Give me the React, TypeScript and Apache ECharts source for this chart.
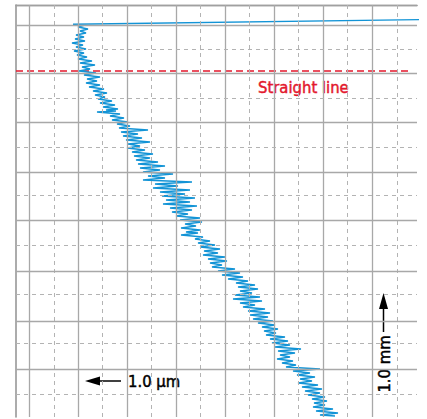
import React, { useEffect, useRef } from "react";
import * as echarts from "echarts";

// Profile trace: lateral deviation (x) vs depth (y), arbitrary units from plot corner
const profileX = [
  411, 57, 69, 62, 72, 64, 70, 60, 68, 59, 69, 56, 67, 60, 70, 58, 68, 61, 71, 62, 76, 64, 79, 66, 74, 63, 80, 68,
  84, 71, 81, 70, 84, 73, 88, 77, 91, 79, 89, 82, 96, 84, 99, 87, 102, 90, 100, 81, 104, 94, 108, 96, 112, 101,
  114, 103, 132, 105, 122, 107, 126, 110, 134, 112, 124, 111, 129, 116, 137, 118, 134, 120, 142, 122, 149, 124,
  144, 127, 157, 132, 149, 127, 176, 139, 162, 137, 174, 144, 169, 146, 179, 150, 174, 147, 181, 154, 176, 156,
  172, 160, 184, 164, 186, 169, 180, 165, 184, 170, 182, 165, 187, 179, 194, 182, 199, 184, 204, 188, 202, 187,
  209, 192, 211, 194, 206, 196, 219, 202, 224, 206, 227, 212, 232, 220, 239, 222, 242, 224, 236, 219, 244, 217,
  246, 224, 239, 227, 249, 232, 254, 234, 252, 237, 257, 242, 259, 246, 262, 248, 260, 250, 269, 254, 272, 256,
  274, 259, 285, 262, 279, 264, 274, 261, 277, 266, 280, 270, 304, 277, 294, 281, 299, 284, 296, 282, 302, 286,
  306, 289, 304, 292, 309, 296, 311, 298, 309, 297, 317, 300, 322, 304, 319,
];
const profileDepth = [
  14.5, 19.3, 20, 22, 24, 26, 28, 30, 32, 34, 36, 38, 40, 42, 44, 46, 48, 50, 52, 54, 56, 58, 60, 62, 64, 66, 68,
  70, 72, 74, 76, 78, 80, 82, 84, 86, 88, 90, 92, 94, 96, 98, 100, 102, 104, 105, 106, 107, 109, 111, 113, 115,
  117, 119, 121, 123, 125, 127, 129, 131, 133, 135, 137, 139, 141, 143, 145, 147, 149, 151, 153, 155, 157, 159,
  161, 163, 165, 167, 169, 171, 173, 175, 177, 179, 181, 183, 185, 187, 189, 191, 193, 195, 197, 199, 201, 203,
  205, 207, 209, 211, 213, 215, 217, 219, 221, 223, 225, 227, 228, 230, 232, 234, 236, 238, 240, 242, 244, 246,
  248, 250, 252, 254, 256, 258, 260, 262, 264, 266, 268, 270, 272, 274, 276, 278, 280, 282, 284, 286, 288, 290,
  292, 294, 296, 298, 300, 302, 304, 306, 308, 310, 312, 314, 316, 318, 320, 322, 324, 326, 328, 330, 332, 334,
  336, 338, 340, 342, 344, 346, 348, 350, 352, 354, 356, 358, 360, 362, 364, 366, 368, 370, 372, 374, 376, 378,
  380, 382, 384, 386, 388, 390, 392, 394, 396, 398, 400, 402, 404, 406, 408, 410, 411,
];

// Reference straight line
const straightX = [0, 396];
const straightDepth = [66, 66];

// Grid divisions
const majorX = [13, 62, 111, 160, 209, 258, 307, 356];
const minorX = [38, 86.5, 135.5, 184.5, 233.5, 282.5, 331.5, 381];
const majorY = [20, 68, 117, 167, 215, 266, 316, 364];
const minorY = [44, 93, 142, 190, 240, 289, 338, 389];

const X_MAX = 401;
const Y_MAX = 412;

const FONT = "'Liberation Sans Narrow', 'DejaVu Sans Condensed', 'Liberation Sans', sans-serif";

export default function App() {
  const ref = useRef<HTMLDivElement>(null);

  useEffect(() => {
    if (!ref.current) return;
    const chart = echarts.init(ref.current, undefined, { renderer: "svg" });

    const n = Math.min(profileX.length, profileDepth.length);
    const trace = [];
    for (let i = 0; i < n; i++) trace.push([profileX[i], profileDepth[i]]);
    const straight = straightX.map((x, i) => [x, straightDepth[i]]);

    const solid = { color: "#a8a8a8", width: 1.3, type: "solid" as const };
    const dashed = { color: "#b3b3b3", width: 1, type: [4, 4] as any };

    const gridLines = [
      ...majorX.map((v) => ({ xAxis: v, lineStyle: solid })),
      ...minorX.map((v) => ({ xAxis: v, lineStyle: dashed })),
      ...majorY.map((v) => ({ yAxis: v, lineStyle: solid })),
      ...minorY.map((v) => ({ yAxis: v, lineStyle: dashed })),
    ];

    const textStyle = (text: string, fill: string, align: string) => ({
      text,
      fill,
      stroke: fill,
      lineWidth: 0.45,
      font: `16.5px ${FONT}`,
      textAlign: align,
      textVerticalAlign: "middle",
    });

    chart.setOption({
      animation: false,
      backgroundColor: "#ffffff",
      grid: { left: 16, top: 5, width: 401, height: 412, containLabel: false },
      xAxis: [
        {
          type: "value",
          min: 0,
          max: X_MAX,
          position: "bottom",
          axisLine: { show: true, lineStyle: { color: "#a0a0a0", width: 1.3 } },
          axisTick: { show: false },
          axisLabel: { show: false },
          splitLine: { show: false },
        },
        {
          type: "value",
          min: 0,
          max: X_MAX,
          position: "top",
          axisLine: { show: true, lineStyle: { color: "#a0a0a0", width: 1.3 } },
          axisTick: { show: false },
          axisLabel: { show: false },
          splitLine: { show: false },
        },
      ],
      yAxis: {
        type: "value",
        min: 0,
        max: Y_MAX,
        inverse: true,
        axisLine: { show: true, onZero: false, lineStyle: { color: "#909090", width: 1.5 } },
        axisTick: { show: false },
        axisLabel: { show: false },
        splitLine: { show: false },
      },
      series: [
        {
          name: "gridlines",
          type: "line",
          data: [[0, 0]],
          showSymbol: false,
          symbol: "none",
          lineStyle: { width: 0 },
          silent: true,
          z: 1,
          markLine: {
            silent: true,
            symbol: ["none", "none"],
            label: { show: false },
            emphasis: { disabled: true },
            animation: false,
            data: gridLines,
          },
        },
        {
          name: "Straight line",
          type: "line",
          data: straight,
          symbol: "none",
          silent: true,
          z: 2,
          lineStyle: { color: "#e3182d", width: 1.3, type: [7, 4] as any },
        },
        {
          name: "Profile",
          type: "line",
          data: trace,
          symbol: "none",
          silent: true,
          clip: false,
          z: 3,
          lineStyle: { color: "#1394d6", width: 1.45 },
        },
      ],
      graphic: [
        {
          type: "text",
          x: 258,
          y: 87,
          style: textStyle("Straight line", "#e3182d", "left"),
        },
        {
          type: "polygon",
          shape: { points: [[85, 381], [100, 376.5], [100, 385.5]] },
          style: { fill: "#000" },
        },
        {
          type: "line",
          shape: { x1: 99, y1: 381, x2: 121, y2: 381 },
          style: { stroke: "#000", lineWidth: 1.5 },
        },
        {
          type: "text",
          x: 128,
          y: 381,
          style: textStyle("1.0 µm", "#000", "left"),
        },
        {
          type: "polygon",
          shape: { points: [[383.5, 293], [379, 309], [388, 309]] },
          style: { fill: "#000" },
        },
        {
          type: "line",
          shape: { x1: 383.5, y1: 308, x2: 383.5, y2: 332 },
          style: { stroke: "#000", lineWidth: 1.5 },
        },
        {
          type: "text",
          x: 384,
          y: 364,
          rotation: Math.PI / 2,
          style: textStyle("1.0 mm", "#000", "center"),
        },
      ],
    });

    return () => chart.dispose();
  }, []);

  return (
    <div
      ref={ref}
      style={{ position: "fixed", left: 0, top: 0, width: 427, height: 419, background: "#fff" }}
    />
  );
}
